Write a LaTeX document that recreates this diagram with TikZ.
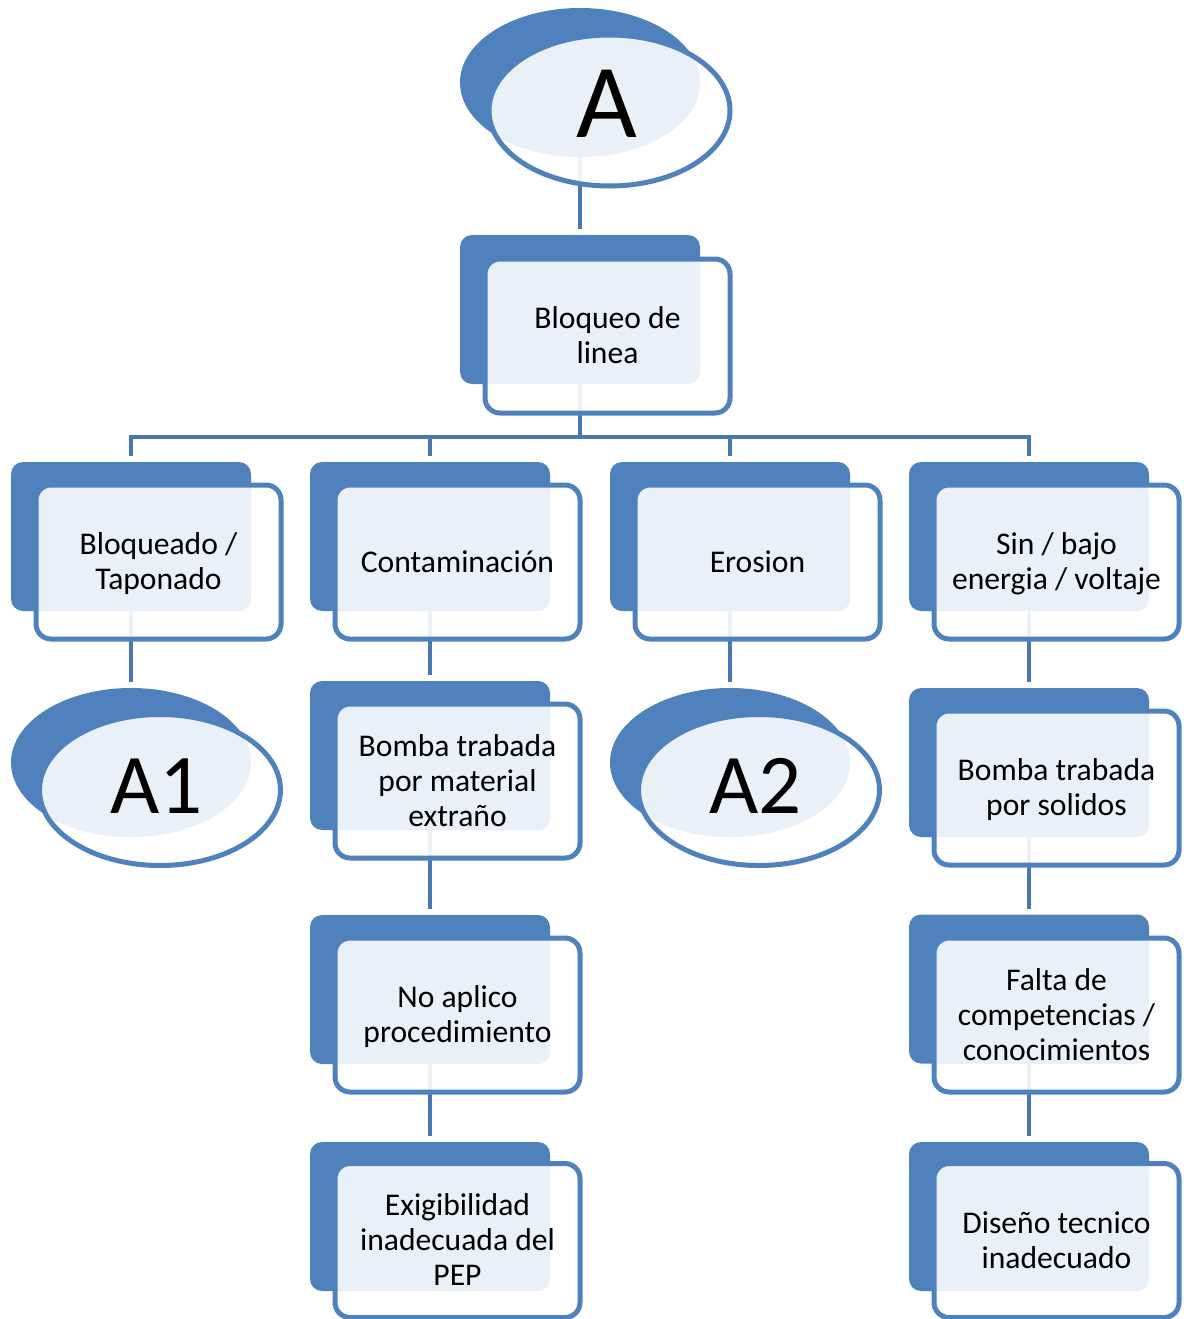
\documentclass[tikz,border=0pt]{standalone}
\usepackage{fontspec}
\setmainfont{Carlito}
\usetikzlibrary{shapes.geometric}

\definecolor{accent}{HTML}{4F81BD}
\definecolor{wire}{HTML}{4A78B0}
\definecolor{paleblue}{HTML}{EAF0F8}

\pgfdeclarelayer{background}
\pgfsetlayers{background,main}

\tikzset{
  backbox/.style={rectangle, fill=accent, rounded corners=12pt,
    minimum width=240pt, minimum height=149pt, inner sep=0pt, outer sep=0pt},
  frontbox/.style={rectangle, fill=white, fill opacity=0.91, rounded corners=15pt,
    minimum width=245pt, minimum height=154pt, inner sep=0pt, outer sep=0pt},
  backoval/.style={ellipse, fill=accent,
    minimum width=240pt, minimum height=149pt, inner sep=0pt, outer sep=0pt},
  frontoval/.style={ellipse, fill=white, fill opacity=0.91,
    minimum width=241pt, minimum height=151pt, inner sep=0pt, outer sep=0pt},
  rim/.style={draw=accent, line width=5pt},
  boxtext/.style={font=\fontsize{31.6}{35}\selectfont, align=center, inner sep=0pt},
  ovaltext/.style={inner sep=0pt, anchor=base},
  wirepath/.style={draw=wire, line width=4.8pt, shorten >=6pt},
}

% #1 name, #2 back centre, #3 front centre, #4 label
\newcommand{\causebox}[4]{%
  \node[backbox] (#1) at (#2) {};
  \node[frontbox] (#1f) at (#3) {};
  \begin{scope}
    \clip[rounded corners=15pt] (#1f.south west) rectangle (#1f.north east);
    \fill[paleblue, rounded corners=12pt] (#1.south west) rectangle (#1.north east);
  \end{scope}
  \draw[rim, rounded corners=15pt] (#1f.south west) rectangle (#1f.north east);
  \node[boxtext] (#1t) at ([yshift=-3pt]#1f.center) {\strut #4\strut};
}

% #1 name, #2 back centre, #3 front centre, #4 label base point, #5 label, #6 size
\newcommand{\refoval}[6]{%
  \node[backoval] (#1) at (#2) {};
  \node[frontoval] (#1f) at (#3) {};
  \begin{scope}
    \clip (#1f.center) ellipse [x radius=120.5pt, y radius=75.5pt];
    \fill[paleblue] (#1.center) ellipse [x radius=120pt, y radius=74.5pt];
  \end{scope}
  \draw[rim] (#1f.center) ellipse [x radius=120.5pt, y radius=75.5pt];
  \node[ovaltext, font=\fontsize{#6}{#6}\selectfont] (#1t) at (#4) {#5};
}

\begin{document}
\begin{tikzpicture}[x=1pt, y=-1pt]
\useasboundingbox (0,0) rectangle (1183,1319);

% root and first split
\refoval{top}{580,82.5}{609.5,110.5}{607,138}{A}{105}
\causebox{lvl0}{580,309.5}{607.5,336}{Bloqueo de\\linea}

% causes
\causebox{c1}{131,536.5}{158.5,562}{Bloqueado /\\Taponado}
\causebox{c2}{430,536.5}{457.5,562}{Contaminación}
\causebox{c3}{730,536.5}{757.5,562}{Erosion}
\causebox{c4}{1029,536.5}{1056.5,562}{Sin / bajo\\energia / voltaje}

% second level
\refoval{a1}{131,762.5}{160,790}{156.5,813}{A1}{85}
\causebox{m2}{430,755.5}{457.5,781}{Bomba trabada\\por material\\extraño}
\refoval{a2}{730,762.5}{759,790}{755.5,813}{A2}{85}
\causebox{m4}{1029,762.5}{1056.5,788}{Bomba trabada\\por solidos}

% third level
\causebox{n2}{430,989.5}{457.5,1015}{No aplico\\procedimiento}
\causebox{n4}{1029,989}{1056.5,1015}{Falta de\\competencias /\\conocimientos}

% fourth level
\causebox{p2}{430,1216.5}{457.5,1240.5}{Exigibilidad\\inadecuada del\\PEP}
\causebox{p4}{1029,1216.5}{1056.5,1240.5}{Diseño tecnico\\inadecuado}

% connectors, under the shapes
\begin{pgfonlayer}{background}
  \draw[wirepath] (top.south) -- (lvl0.north);
  \coordinate (bus) at (580,437);
  \foreach \c in {c1,c2,c3,c4}
    \draw[wirepath] (lvl0.south) -- (bus) -| (\c.north);
  \draw[wirepath] (c1.south) -- (a1.north);
  \draw[wirepath] (c2.south) -- (m2.north);
  \draw[wirepath] (m2.south) -- (n2.north);
  \draw[wirepath] (n2.south) -- (p2.north);
  \draw[wirepath] (c3.south) -- (a2.north);
  \draw[wirepath] (c4.south) -- (m4.north);
  \draw[wirepath] (m4.south) -- (n4.north);
  \draw[wirepath] (n4.south) -- (p4.north);
\end{pgfonlayer}
\end{tikzpicture}
\end{document}
